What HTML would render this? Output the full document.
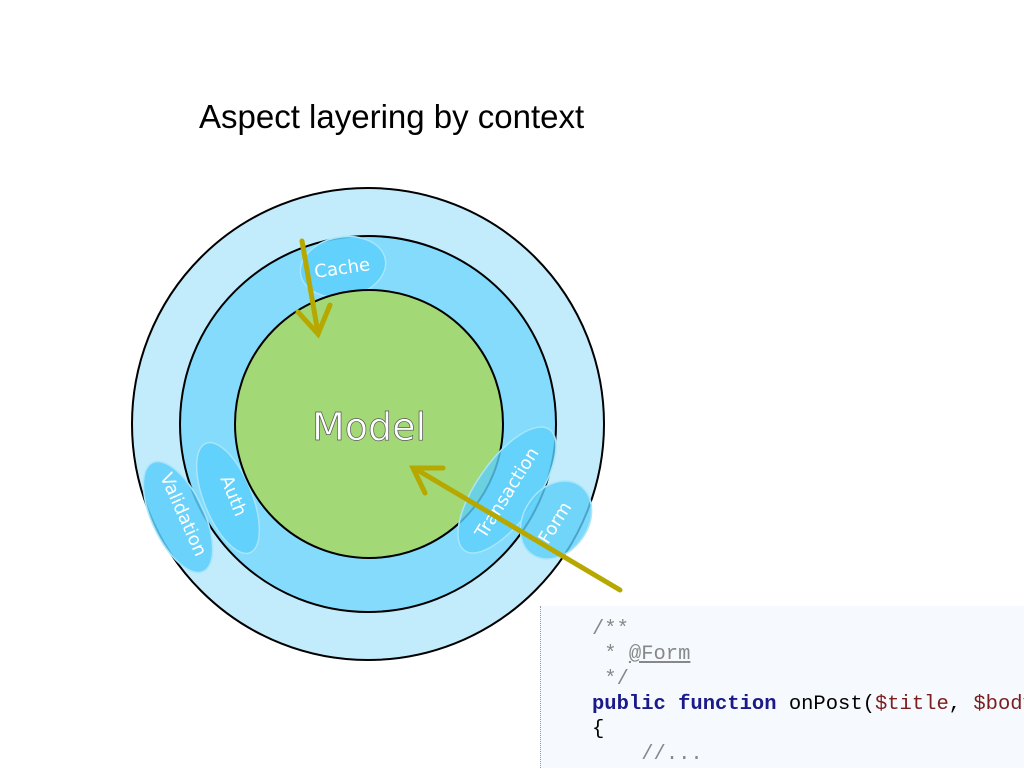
<!DOCTYPE html>
<html><head><meta charset="utf-8"><style>
body{margin:0;width:1024px;height:768px;background:#fff;overflow:hidden;position:relative;font-family:"Liberation Sans",sans-serif}
.t{position:absolute;left:199px;top:98px;font-size:33px;color:#000;white-space:nowrap}
.code{position:absolute;left:540px;top:606px;width:484px;height:162px;background:#f6f9fd;border-left:1px dotted #999;overflow:hidden}
.code pre{margin:0;position:absolute;left:51px;top:11px;font-family:"Liberation Mono",monospace;font-size:20.5px;line-height:25px;color:#000;white-space:pre}
.c{color:#888}.k{color:#1a1a8a;font-weight:bold}.v{color:#7a1e1e}
</style></head><body>
<div class="t">Aspect layering by context</div>
<svg width="1024" height="768" style="position:absolute;left:0;top:0">
<circle cx="368" cy="424" r="236" fill="#c2ebfb" stroke="#000" stroke-width="2"/>
<circle cx="368" cy="424" r="188" fill="#84dbfb" stroke="#000" stroke-width="2"/>
<g fill="#5ccffa" fill-opacity="0.85" stroke="#a8e6fb" stroke-width="1.5">
<ellipse cx="343" cy="267" rx="43" ry="30" transform="rotate(-10 343 267)"/>
<ellipse cx="228" cy="498" rx="24" ry="59" transform="rotate(-22 228 498)"/>
<ellipse cx="178" cy="517" rx="26" ry="60" transform="rotate(-25 178 517)"/>
</g>
<circle cx="369" cy="424" r="134" fill="#a3d877" stroke="#000" stroke-width="2"/>
<g fill="#5ccffa" fill-opacity="0.8" stroke="#a8e6fb" stroke-width="1.5">
<ellipse cx="507" cy="490" rx="30" ry="74" transform="rotate(35 507 490)"/>
<ellipse cx="556" cy="520" rx="32" ry="42" transform="rotate(35 556 520)"/>
</g>
<g font-family="'DejaVu Sans',sans-serif" fill="#fff" font-size="18">
<text x="343" y="274" text-anchor="middle" transform="rotate(-8 343 274)">Cache</text>
<text x="0" y="0" text-anchor="middle" transform="translate(228,498) rotate(68)">Auth</text>
<text x="0" y="0" text-anchor="middle" transform="translate(178,517) rotate(66)">Validation</text>
<text x="0" y="0" text-anchor="middle" transform="translate(512,496) rotate(-58)">Transaction</text>
<text x="0" y="0" text-anchor="middle" transform="translate(560,526) rotate(-58)">Form</text>
</g>
<text x="369" y="440" text-anchor="middle" font-size="38" fill="#fff" stroke="#555" stroke-width="0.7" font-family="'DejaVu Sans',sans-serif">Model</text>
<g stroke="#b7a800" stroke-width="5" fill="none" stroke-linecap="round">
<line x1="302" y1="241" x2="318" y2="333"/>
<polyline points="298,312 318,334 330,305"/>
<line x1="620" y1="590" x2="414" y2="468"/>
<polyline points="425,493 413,468 443,468"/>
</g>
</svg>
<div class="code"><pre><span class="c">/**
 * <u>@Form</u>
 */</span>
<span class="k">public function</span> onPost(<span class="v">$title</span>, <span class="v">$body</span>
{
    <span class="c">//...</span></pre></div>
</body></html>
